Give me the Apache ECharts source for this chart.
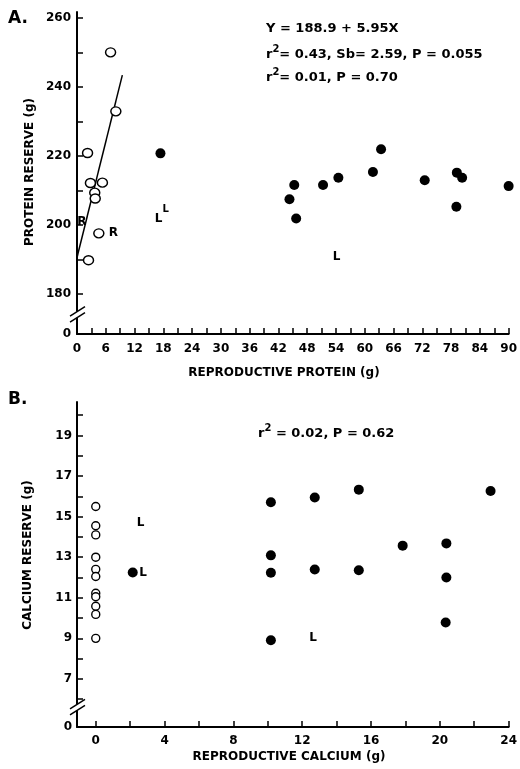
<!DOCTYPE html>
<html>
<head>
<meta charset="utf-8">
<script src="https://cdn.jsdelivr.net/npm/echarts@6/dist/echarts.min.js"></script>
<style>
html, body { margin: 0; padding: 0; background: #fff; }
#main { width: 520px; height: 769px; }
</style>
</head>
<body>
<div id="main"></div>
<script>
/* A. protein */
var proteinOpen = [[7.0, 250.1], [8.1, 233.0], [2.2, 220.9], [2.8, 212.2], [5.3, 212.3],
	[3.7, 209.4], [3.8, 207.7], [4.55, 197.6], [2.4, 189.8]];
var proteinFilled = [[17.4, 220.8], [44.3, 207.5], [45.3, 211.6], [45.7, 201.9], [51.3, 211.6],
	[54.5, 213.7], [61.7, 215.4], [63.4, 222.0], [72.5, 213.0], [79.2, 215.2], [80.3, 213.7],
	[79.1, 205.3], [90.0, 211.3]];
var proteinFit = [[0, 190.6], [9.45, 243.5]];
var proteinLetters = [[1.0, 200.9, 'R'], [7.6, 197.6, 'R'], [17.0, 201.9, 'L'], [54.1, 190.8, 'L']];
var proteinSupLetters = [[18.5, 204.4, 'L']];
var proteinXTicks = [0, 3, 6, 9, 12, 15, 18, 21, 24, 27, 30, 33, 36, 39, 42, 45, 48, 51, 54, 57,
	60, 63, 66, 69, 72, 75, 78, 81, 84, 87, 90];
var proteinXLabels = [0, 6, 12, 18, 24, 30, 36, 42, 48, 54, 60, 66, 72, 78, 84, 90];
var proteinYTicks = [180, 190, 200, 210, 220, 230, 240, 250, 260];
var proteinYLabels = [180, 200, 220, 240, 260];
var proteinYMin = 168.4;
var proteinBreak = 174;

/* B. calcium */
var calciumOpen = [[0, 15.5], [0, 14.55], [0, 14.1], [0, 13.0], [0, 12.4], [0, 12.05],
	[0, 11.22], [0, 11.05], [0, 10.58], [0, 10.18], [0, 9.0]];
var calciumFilled = [[2.15, 12.25], [10.18, 15.71], [10.18, 13.09], [10.18, 12.23], [10.18, 8.91],
	[12.73, 15.94], [12.73, 12.39], [15.29, 16.33], [15.29, 12.36], [17.84, 13.57],
	[20.38, 13.68], [20.38, 12.0], [20.34, 9.78], [22.95, 16.26]];
var calciumLetters = [[2.6, 14.68, 'L'], [2.75, 12.25, 'L'], [12.63, 9.04, 'L']];
var calciumXTicks = [0, 2, 4, 6, 8, 10, 12, 14, 16, 18, 20, 22, 24];
var calciumXLabels = [0, 4, 8, 12, 16, 20, 24];
var calciumYTicks = [6, 7, 8, 9, 10, 11, 12, 13, 14, 15, 16, 17, 18, 19, 20];
var calciumYLabels = [7, 9, 11, 13, 15, 17, 19];
var calciumXMin = -1.09;
var calciumYMin = 4.63;
var calciumBreak = 5.6;

var FONT = '"DejaVu Sans", "Liberation Sans", sans-serif';

function axisStyle(extra) {
	var base = {
		axisLine: { show: true, onZero: false, lineStyle: { color: '#000', width: 2 } },
		axisTick: { show: true, inside: true, length: 6, lineStyle: { color: '#000', width: 1.5 } },
		axisLabel: { color: '#000', fontFamily: FONT, fontWeight: 'bold', fontSize: 12 },
		splitLine: { show: false }
	};
	for (var k in extra) {
		if (typeof extra[k] === 'object' && base[k]) {
			for (var j in extra[k]) base[k][j] = extra[k][j];
		} else {
			base[k] = extra[k];
		}
	}
	return base;
}

// letters (L, R) drawn as labels of invisible points
function letterSeries(data, xi, size) {
	return {
		type: 'scatter', xAxisIndex: xi, yAxisIndex: xi, data: data,
		symbolSize: 0, itemStyle: { color: '#000' }, silent: true, z: 4,
		label: {
			show: true, position: 'inside', opacity: 1,
			color: '#000', textBorderWidth: 0,
			fontFamily: FONT, fontWeight: 'bold', fontSize: size,
			formatter: function (p) { return p.value[2]; }
		}
	};
}

var openStyle = { color: '#fff', borderColor: '#000', borderWidth: 1.4, opacity: 1 };
var filledStyle = { color: '#000', opacity: 1 };

var chart = echarts.init(document.getElementById('main'));
var option = {
	animation: false,
	backgroundColor: '#fff',
	grid: [
		{ left: 77, right: 8, top: 12, bottom: 435 },
		{ left: 77, right: 7, top: 402, bottom: 42 }
	],
	xAxis: [
		axisStyle({
			type: 'value', gridIndex: 0, min: 0, max: 90,
			axisTick: { customValues: proteinXTicks },
			axisLabel: { customValues: proteinXLabels, margin: 9 }
		}),
		axisStyle({
			type: 'value', gridIndex: 1, min: calciumXMin, max: 24,
			axisTick: { customValues: calciumXTicks },
			axisLabel: { customValues: calciumXLabels, margin: 8 }
		})
	],
	yAxis: [
		axisStyle({
			type: 'value', gridIndex: 0, min: proteinYMin, max: 261.8,
			axisTick: { customValues: proteinYTicks },
			axisLabel: {
				customValues: [proteinYMin].concat(proteinYLabels), margin: 6,
				formatter: function (v) { return v < 170 ? '0' : v; }
			}
		}),
		axisStyle({
			type: 'value', gridIndex: 1, min: calciumYMin, max: 20.65,
			axisTick: { customValues: calciumYTicks },
			axisLabel: {
				customValues: [calciumYMin].concat(calciumYLabels), margin: 5,
				formatter: function (v) { return v < 5 ? '0' : v; }
			}
		})
	],
	series: [
		{
			type: 'line', xAxisIndex: 0, yAxisIndex: 0, data: proteinFit,
			symbol: 'none', lineStyle: { color: '#000', width: 1.5 }, z: 1
		},
		{
			type: 'scatter', xAxisIndex: 0, yAxisIndex: 0, data: proteinOpen,
			symbol: 'circle', symbolSize: [10, 9], itemStyle: openStyle, z: 3
		},
		{
			type: 'scatter', xAxisIndex: 0, yAxisIndex: 0, data: proteinFilled,
			symbol: 'circle', symbolSize: 10, itemStyle: filledStyle, z: 3
		},
		letterSeries(proteinLetters, 0, 12),
		letterSeries(proteinSupLetters, 0, 10),
		{
			type: 'scatter', xAxisIndex: 1, yAxisIndex: 1, data: calciumOpen,
			symbol: 'circle', symbolSize: 8, itemStyle: openStyle, z: 3
		},
		{
			type: 'scatter', xAxisIndex: 1, yAxisIndex: 1, data: calciumFilled,
			symbol: 'circle', symbolSize: 10, itemStyle: filledStyle, z: 3
		},
		letterSeries(calciumLetters, 1, 12)
	]
};
chart.setOption(option);

function txt(x, y, text, size, extra) {
	var st = {
		x: x, y: y, text: text, fill: '#000',
		fontFamily: FONT, fontWeight: 'bold', fontSize: size,
		align: 'left', verticalAlign: 'middle'
	};
	for (var k in extra) st[k] = extra[k];
	return { type: 'text', style: st, z: 10 };
}

function vtxt(x, y, text, size) {
	return {
		type: 'text', x: x, y: y, rotation: Math.PI / 2, z: 10,
		style: {
			x: 0, y: 0, text: text, fill: '#000', fontFamily: FONT, fontWeight: 'bold',
			fontSize: size, align: 'center', verticalAlign: 'middle'
		}
	};
}

var rich = {
	n: { fontFamily: FONT, fontWeight: 'bold', fontSize: 13, lineHeight: 17, verticalAlign: 'bottom' },
	s: { fontFamily: FONT, fontWeight: 'bold', fontSize: 10, lineHeight: 10, verticalAlign: 'top' }
};

// axis break marks
function breakMark(gi, yValue, xMin) {
	var p = chart.convertToPixel({ gridIndex: gi }, [xMin, yValue]);
	var x = p[0], c = p[1];
	return [
		{ type: 'rect', shape: { x: x - 3, y: c - 3, width: 6, height: 6 }, style: { fill: '#fff' }, z: 20 },
		{ type: 'line', shape: { x1: x - 7, y1: c - 3 + 4.5, x2: x + 8, y2: c - 3 - 5 }, style: { stroke: '#000', lineWidth: 1.5 }, z: 21 },
		{ type: 'line', shape: { x1: x - 7, y1: c + 3 + 4.5, x2: x + 8, y2: c + 3 - 5 }, style: { stroke: '#000', lineWidth: 1.5 }, z: 21 }
	];
}

var graphics = [
	txt(8, 19, 'A.', 17),
	txt(8, 400, 'B.', 17),
	txt(266, 29, 'Y = 188.9 + 5.95X', 13),
	txt(266, 53, '{n|r}{s|2}{n|= 0.43, Sb= 2.59, P = 0.055}', 13, { rich: rich }),
	txt(266, 76, '{n|r}{s|2}{n|= 0.01, P = 0.70}', 13, { rich: rich }),
	txt(258, 432, '{n|r}{s|2}{n| = 0.02, P = 0.62}', 13, { rich: rich }),
	txt(284, 373, 'REPRODUCTIVE PROTEIN (g)', 12, { align: 'center' }),
	txt(289, 757, 'REPRODUCTIVE CALCIUM (g)', 12, { align: 'center' }),
	vtxt(30, 172, 'PROTEIN RESERVE (g)', 12),
	vtxt(28, 555, 'CALCIUM RESERVE (g)', 12)
];
graphics = graphics.concat(breakMark(0, proteinBreak, 0), breakMark(1, calciumBreak, calciumXMin));
chart.setOption({ graphic: graphics });
</script>
</body>
</html>
